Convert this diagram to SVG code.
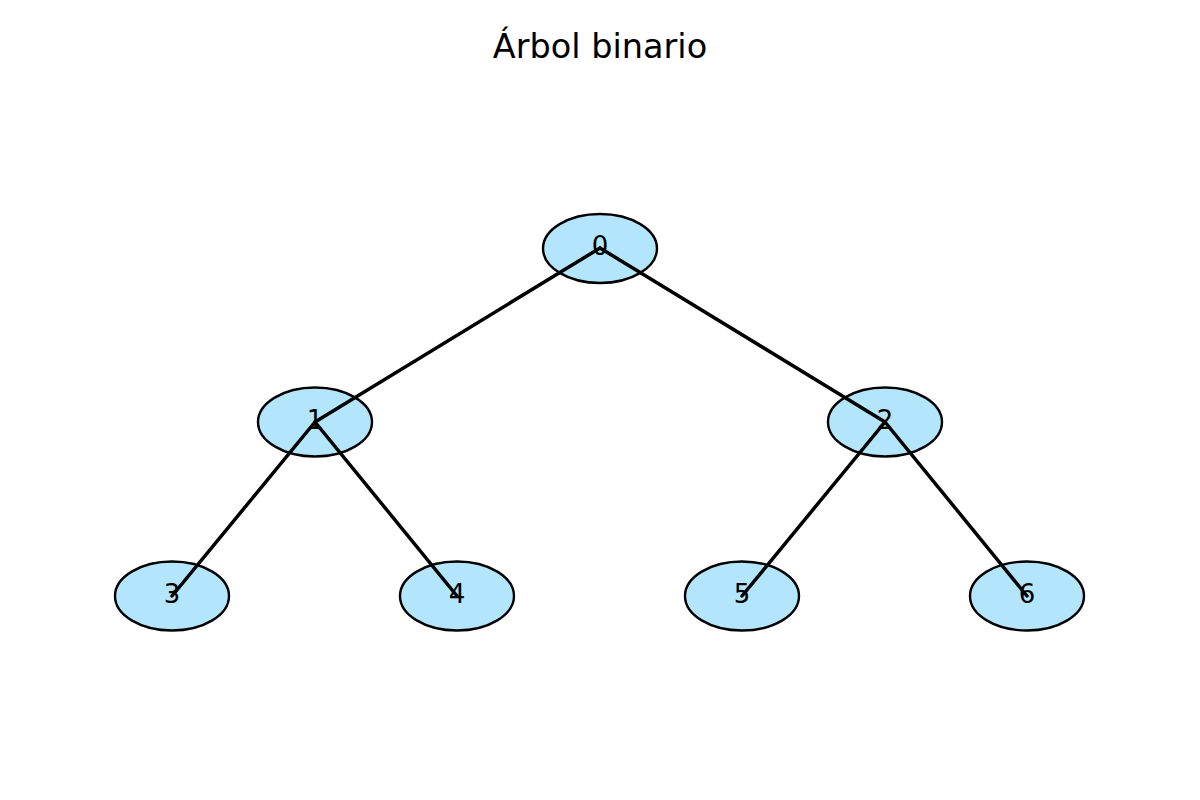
<svg xmlns="http://www.w3.org/2000/svg" width="1200" height="800" viewBox="0 0 1200 800">
<style>
.node ellipse{fill:#b3e5fc;stroke:#000;stroke-width:2.4}
.node text{font-family:"DejaVu Sans",sans-serif;font-size:26px;text-anchor:middle;fill:#000}
.edges line{stroke:#000;stroke-width:3.5;stroke-linecap:round}
.title{font-family:"DejaVu Sans",sans-serif;font-size:33.5px;text-anchor:middle;fill:#000}
</style>
<rect width="1200" height="800" fill="#fff"/>
<text class="title" x="600" y="58">Árbol binario</text>
<g id="n0" class="node"><ellipse cx="600" cy="248.5" rx="57" ry="34.5"/><text x="600" y="255">0</text></g>
<g id="n1" class="node"><ellipse cx="315" cy="422" rx="57" ry="34.5"/><text x="315" y="429">1</text></g>
<g id="n2" class="node"><ellipse cx="885" cy="422" rx="57" ry="34.5"/><text x="885" y="429">2</text></g>
<g id="n3" class="node"><ellipse cx="172" cy="596" rx="57" ry="34.5"/><text x="172" y="603">3</text></g>
<g id="n4" class="node"><ellipse cx="457" cy="596" rx="57" ry="34.5"/><text x="457" y="603">4</text></g>
<g id="n5" class="node"><ellipse cx="742" cy="596" rx="57" ry="34.5"/><text x="742" y="603">5</text></g>
<g id="n6" class="node"><ellipse cx="1027" cy="596" rx="57" ry="34.5"/><text x="1027" y="603">6</text></g>
<g id="edges" class="edges">
<line x1="600" y1="248" x2="315" y2="422"/>
<line x1="600" y1="248" x2="885" y2="422"/>
<line x1="315" y1="422" x2="172" y2="596"/>
<line x1="315" y1="422" x2="457" y2="596"/>
<line x1="885" y1="422" x2="742" y2="596"/>
<line x1="885" y1="422" x2="1027" y2="596"/>
</g>
</svg>
